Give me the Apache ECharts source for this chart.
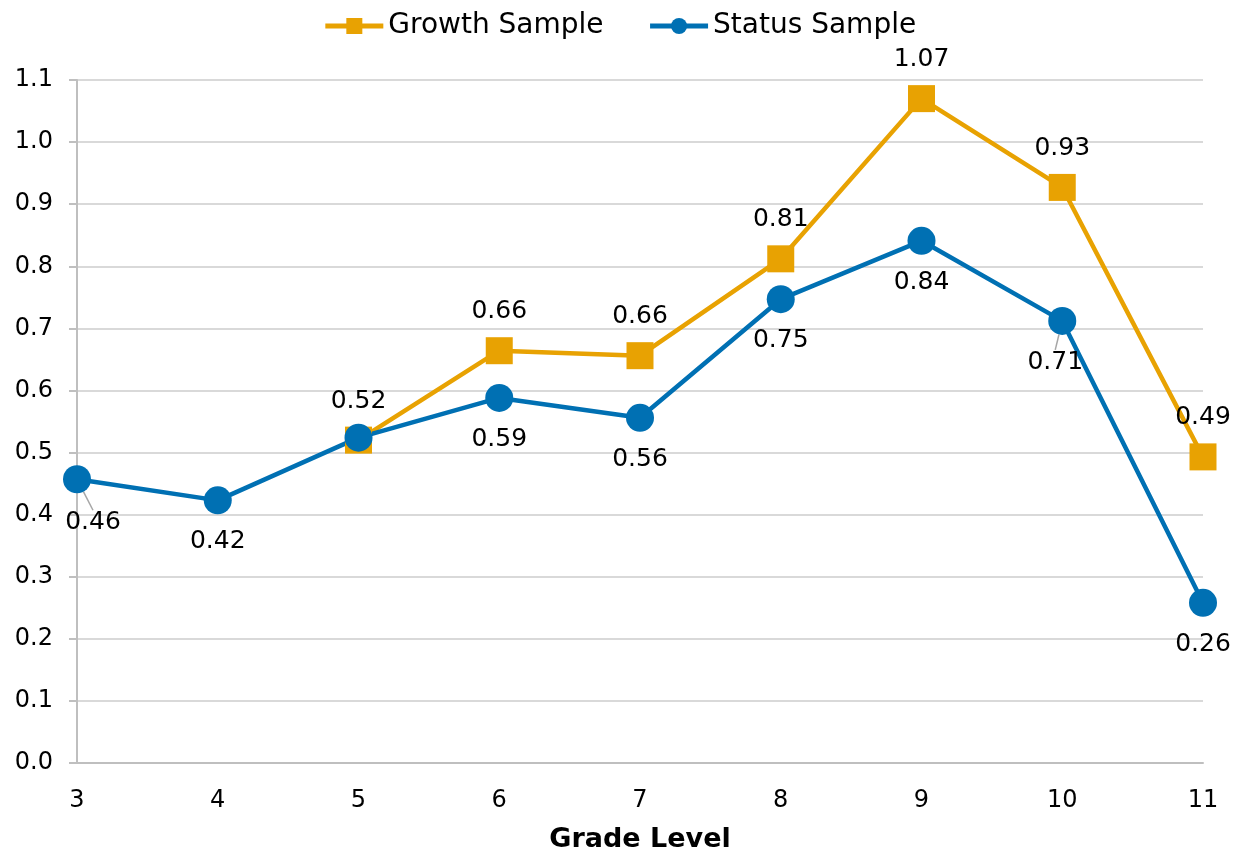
<!DOCTYPE html>
<html><head><meta charset="utf-8">
<script src="https://cdn.jsdelivr.net/npm/echarts@6/dist/echarts.min.js"></script>
<style>html,body{margin:0;padding:0;background:#fff}#c{width:1239px;height:852px}</style>
</head><body><div id="c"></div>
<script>
var categories = ['3','4','5','6','7','8','9','10','11'];
var growthSample = [null, null, 0.52, 0.664, 0.656, 0.812, 1.07, 0.927, 0.493];
var statusSample = [0.457, 0.423, 0.524, 0.588, 0.556, 0.747, 0.841, 0.712, 0.258];
var FONT = '"DejaVu Sans", sans-serif';

var statusData = statusSample.map(function(v, i){
  var item = {value: v};
  if (i === 2) item.label = {show:false};
  if (i === 0 || i === 7) item.labelLine = {show:true};
  return item;
});

var chart = echarts.init(document.getElementById('c'), null, {renderer:'canvas'});
chart.setOption({
  animation:false,
  textStyle:{fontFamily:FONT},
  legend:{
    top:7, left:'center', itemWidth:58, itemHeight:20, itemGap:44,
    lineStyle:{width:5},
    textStyle:{fontSize:28, color:'#000', fontFamily:FONT},
    data:['Growth Sample','Status Sample']
  },
  grid:{left:77, right:36, top:80, bottom:89, outerBoundsMode:'none', containLabel:false},
  xAxis:{
    type:'category', data:categories, boundaryGap:false,
    axisLine:{lineStyle:{color:'#bfbfbf', width:2}},
    axisTick:{show:false},
    axisLabel:{color:'#000', fontSize:24, margin:26, fontFamily:FONT},
    name:'Grade Level', nameLocation:'middle', nameGap:63,
    nameTextStyle:{fontSize:27, fontWeight:'bold', color:'#000', fontFamily:FONT}
  },
  yAxis:{
    type:'value', min:0, max:1.1, interval:0.1,
    axisLine:{show:true, lineStyle:{color:'#bfbfbf', width:2}},
    axisTick:{show:true, length:8, lineStyle:{color:'#bfbfbf', width:2}},
    splitLine:{lineStyle:{color:'#d9d9d9', width:2}},
    axisLabel:{color:'#000', fontSize:24, margin:24, fontFamily:FONT,
      formatter:function(v){return v.toFixed(1);}}
  },
  series:[
    {
      name:'Growth Sample', type:'line', data:growthSample,
      symbol:'rect', symbolSize:27, connectNulls:false,
      lineStyle:{color:'#E8A202', width:4.5}, itemStyle:{color:'#E8A202'},
      label:{show:true, position:'top', distance:13, fontSize:25, color:'#000', fontFamily:FONT,
        formatter:function(p){return p.value==null?'':p.value.toFixed(2);}}
    },
    {
      name:'Status Sample', type:'line', data:statusData,
      symbol:'circle', symbolSize:28,
      lineStyle:{color:'#0070B3', width:4.5}, itemStyle:{color:'#0070B3'},
      label:{show:true, position:'bottom', distance:15, fontSize:25, color:'#000', fontFamily:FONT,
        formatter:function(p){return p.value.toFixed(2);}},
      labelLine:{show:false, lineStyle:{color:'#a6a6a6', width:1.5}},
      labelLayout:function(p){
        if(p.dataIndex===0) return {dx:16, dy:2};
        if(p.dataIndex===7) return {dx:-7, dy:0};
        return {};
      }
    }
  ]
});
</script></body></html>
